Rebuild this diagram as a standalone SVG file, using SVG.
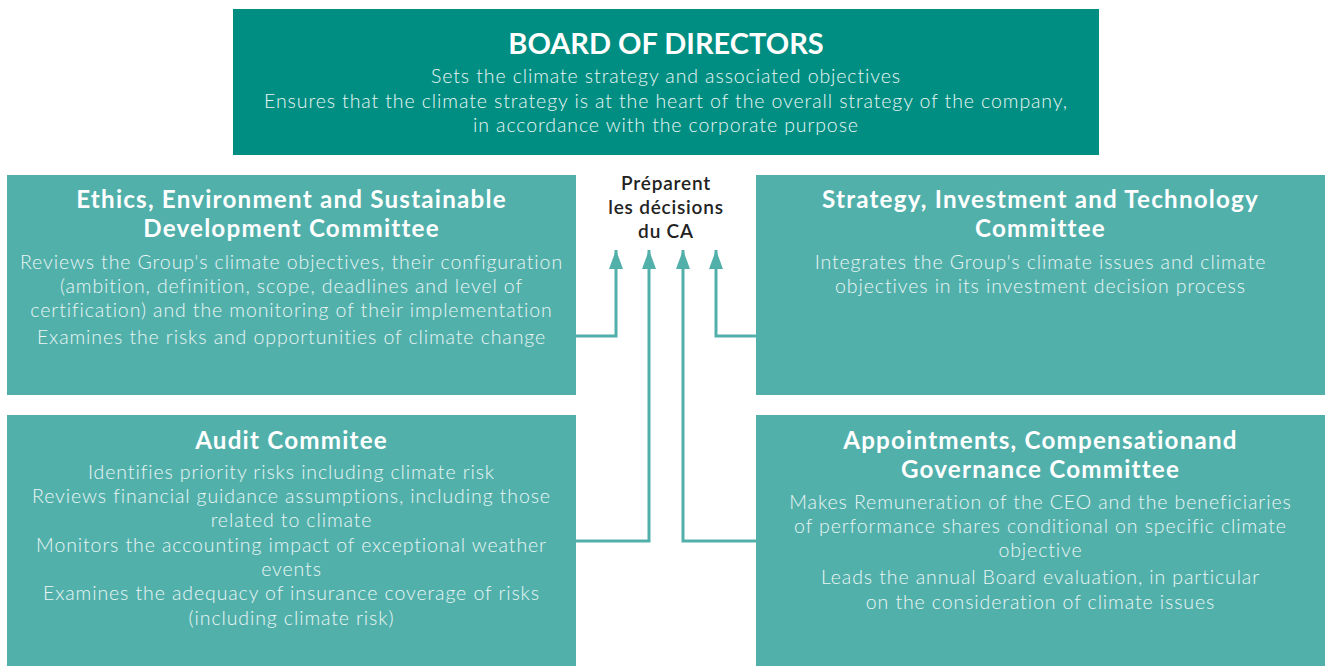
<svg xmlns="http://www.w3.org/2000/svg" width="1325" height="666" viewBox="0 0 1325 666">
<defs>
<style>
.board{fill:#008E82}
.box{fill:#52B0AB}
.t{font-family:Lato,"Open Sans",sans-serif;text-anchor:middle}
.ttl{font-weight:bold;fill:#ffffff;font-size:24.2px;letter-spacing:1.2px}
.bttl{font-weight:bold;fill:#ffffff;font-size:29px}
.body{fill:#EAF6F5;font-size:19.5px;font-weight:300;letter-spacing:0.9px}
.lab{fill:#222222;font-size:19px;font-weight:600;letter-spacing:0.8px}
.conn{fill:none;stroke:#52B0AB;stroke-width:3}
</style>
<marker id="arr" markerUnits="userSpaceOnUse" markerWidth="20" markerHeight="14" refX="19" refY="7" orient="auto" viewBox="0 0 20 14">
<path d="M0,0 L19,7 L0,14 Z" fill="#52B0AB"/>
</marker>
</defs>
<rect width="1325" height="666" fill="#ffffff"/>
<g id="board">
<rect class="board" x="233" y="9" width="866" height="146"/>
<text class="t bttl" x="666" y="54">BOARD OF DIRECTORS</text>
<text class="t body" x="666" y="83">Sets the climate strategy and associated objectives</text>
<text class="t body" x="666" y="108">Ensures that the climate strategy is at the heart of the overall strategy of the company,</text>
<text class="t body" x="666" y="132">in accordance with the corporate purpose</text>
</g>
<g id="ethics">
<rect class="box" x="7" y="175" width="569" height="220"/>
<text class="t ttl" x="291.5" y="208">Ethics, Environment and Sustainable</text>
<text class="t ttl" x="291.5" y="237">Development Committee</text>
<text class="t body" x="291.5" y="269">Reviews the Group's climate objectives, their configuration</text>
<text class="t body" x="291.5" y="293">(ambition, definition, scope, deadlines and level of</text>
<text class="t body" x="291.5" y="317">certification) and the monitoring of their implementation</text>
<text class="t body" x="291.5" y="344">Examines the risks and opportunities of climate change</text>
</g>
<g id="strategy">
<rect class="box" x="756" y="175" width="569" height="220"/>
<text class="t ttl" x="1040.5" y="208">Strategy, Investment and Technology</text>
<text class="t ttl" x="1040.5" y="237">Committee</text>
<text class="t body" x="1040.5" y="269">Integrates the Group's climate issues and climate</text>
<text class="t body" x="1040.5" y="293">objectives in its investment decision process</text>
</g>
<g id="audit">
<rect class="box" x="7" y="415" width="569" height="251"/>
<text class="t ttl" x="291.5" y="449">Audit Commitee</text>
<text class="t body" x="291.5" y="479">Identifies priority risks including climate risk</text>
<text class="t body" x="291.5" y="503">Reviews financial guidance assumptions, including those</text>
<text class="t body" x="291.5" y="527">related to climate</text>
<text class="t body" x="291.5" y="552">Monitors the accounting impact of exceptional weather</text>
<text class="t body" x="291.5" y="576">events</text>
<text class="t body" x="291.5" y="600">Examines the adequacy of insurance coverage of risks</text>
<text class="t body" x="291.5" y="625">(including climate risk)</text>
</g>
<g id="appointments">
<rect class="box" x="756" y="415" width="569" height="251"/>
<text class="t ttl" x="1040.5" y="449">Appointments, Compensationand</text>
<text class="t ttl" x="1040.5" y="478">Governance Committee</text>
<text class="t body" x="1040.5" y="509">Makes Remuneration of the CEO and the beneficiaries</text>
<text class="t body" x="1040.5" y="533">of performance shares conditional on specific climate</text>
<text class="t body" x="1040.5" y="557">objective</text>
<text class="t body" x="1040.5" y="584">Leads the annual Board evaluation, in particular</text>
<text class="t body" x="1040.5" y="609">on the consideration of climate issues</text>
</g>
<g id="label">
<text class="t lab" x="666" y="190">Préparent</text>
<text class="t lab" x="666" y="214">les décisions</text>
<text class="t lab" x="666" y="238">du CA</text>
</g>
<g id="connectors">
<path class="conn" d="M576,336 H616 V250" marker-end="url(#arr)"/>
<path class="conn" d="M576,541 H649 V250" marker-end="url(#arr)"/>
<path class="conn" d="M756,541 H683 V250" marker-end="url(#arr)"/>
<path class="conn" d="M756,336 H716 V250" marker-end="url(#arr)"/>
</g>
</svg>
